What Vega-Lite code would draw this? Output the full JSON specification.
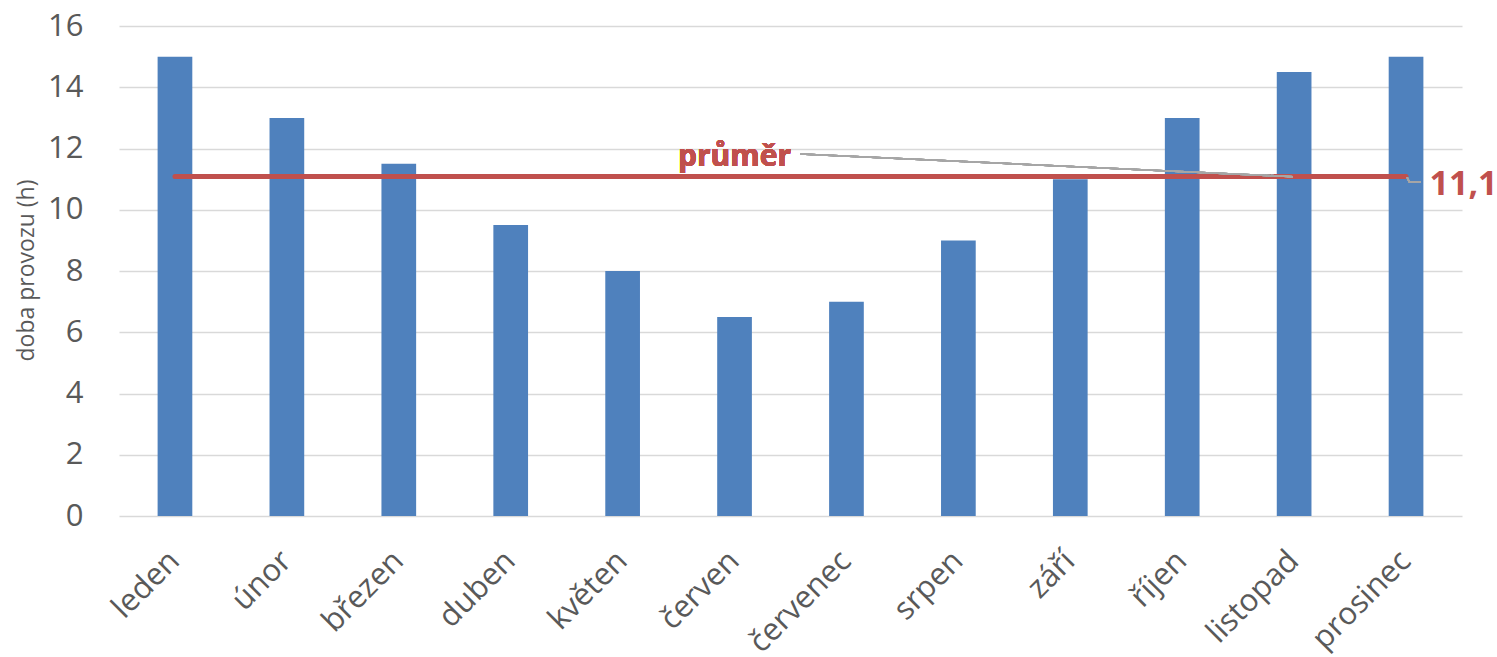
{
  "$schema": "https://vega.github.io/schema/vega-lite/v6.json",
  "autosize": "none",
  "width": 1343,
  "height": 490,
  "padding": {"left": 119, "top": 26, "right": 35, "bottom": 141},
  "background": "white",
  "config": {
    "view": {"stroke": null},
    "font": "Open Sans",
    "locale": {"number": {"decimal": ",", "thousands": "\u00a0", "grouping": [3], "currency": ["", " Kč"]}}
  },
  "data": {
    "values": [
      {"mesic": "leden", "doba": 15},
      {"mesic": "únor", "doba": 13},
      {"mesic": "březen", "doba": 11.5},
      {"mesic": "duben", "doba": 9.5},
      {"mesic": "květen", "doba": 8},
      {"mesic": "červen", "doba": 6.5},
      {"mesic": "červenec", "doba": 7},
      {"mesic": "srpen", "doba": 9},
      {"mesic": "září", "doba": 11},
      {"mesic": "říjen", "doba": 13},
      {"mesic": "listopad", "doba": 14.5},
      {"mesic": "prosinec", "doba": 15}
    ]
  },
  "resolve": {"scale": {"x": "independent"}, "axis": {"x": "independent"}},
  "layer": [
    {
      "mark": {"type": "bar", "color": "#4F81BD"},
      "encoding": {
        "x": {
          "field": "mesic", "type": "nominal", "sort": null,
          "scale": {"paddingInner": 0.69, "paddingOuter": 0.345},
          "axis": {
            "title": null, "domain": false, "ticks": false,
            "labelAngle": -45, "labelAlign": "right", "labelBaseline": "middle",
            "labelFontSize": 31, "labelColor": "#595959", "labelPadding": 40,
            "labelFont": "Open Sans"
          }
        },
        "y": {
          "field": "doba", "type": "quantitative",
          "scale": {"domain": [0, 16], "nice": false},
          "axis": {
            "values": [0, 2, 4, 6, 8, 10, 12, 14, 16],
            "title": "doba provozu (h)",
            "titleFontSize": 23, "titleFontWeight": "normal", "titleColor": "#595959",
            "titleFont": "Open Sans", "titleX": -93, "titleY": 244,
            "titleBaseline": "middle", "titleAlign": "center", "titleAngle": -90,
            "domain": false, "ticks": false,
            "labelFontSize": 31, "labelColor": "#595959", "labelPadding": 36,
            "labelFont": "Open Sans",
            "grid": true, "gridColor": "#D9D9D9", "gridWidth": 1.5
          }
        }
      }
    },
    {
      "transform": [{"joinaggregate": [{"op": "mean", "field": "doba", "as": "prumer"}]}],
      "mark": {"type": "line", "color": "#C0504D", "strokeWidth": 5, "strokeCap": "round"},
      "encoding": {
        "x": {"field": "mesic", "type": "nominal", "sort": null, "scale": {"paddingInner": 0.69, "paddingOuter": 0.345}, "axis": null},
        "y": {"field": "prumer", "type": "quantitative"}
      }
    },
    {
      "mark": {"type": "rule", "color": "#A6A6A6", "strokeWidth": 1.5},
      "encoding": {
        "x": {"datum": 6.085, "type": "quantitative", "scale": {"domain": [0, 12]}, "axis": null},
        "x2": {"datum": 10.49},
        "y": {"datum": 11.82},
        "y2": {"datum": 11.08}
      }
    },
    {
      "mark": {"type": "rule", "color": "#A6A6A6", "strokeWidth": 1.5},
      "encoding": {
        "x": {"datum": 11.51, "type": "quantitative", "scale": {"domain": [0, 12]}, "axis": null},
        "x2": {"datum": 11.53},
        "y": {"datum": 11.06},
        "y2": {"datum": 10.9}
      }
    },
    {
      "mark": {"type": "rule", "color": "#A6A6A6", "strokeWidth": 1.5},
      "encoding": {
        "x": {"datum": 11.53, "type": "quantitative", "scale": {"domain": [0, 12]}, "axis": null},
        "x2": {"datum": 11.63},
        "y": {"datum": 10.9},
        "y2": {"datum": 10.9}
      }
    },
    {
      "mark": {"type": "text", "text": "průměr", "color": "#C0504D", "font": "Open Sans", "fontWeight": "bold", "fontSize": 30, "align": "center", "baseline": "alphabetic"},
      "encoding": {
        "x": {"datum": 5.5, "type": "quantitative", "scale": {"domain": [0, 12]}, "axis": null},
        "y": {"datum": 11.43}
      }
    },
    {
      "transform": [{"aggregate": [{"op": "mean", "field": "doba", "as": "prumer"}]}],
      "mark": {"type": "text", "color": "#C0504D", "font": "Open Sans", "fontWeight": "bold", "fontSize": 34, "align": "left", "baseline": "alphabetic"},
      "encoding": {
        "x": {"datum": 11.71, "type": "quantitative", "scale": {"domain": [0, 12]}, "axis": null},
        "y": {"datum": 10.48},
        "text": {"field": "prumer", "type": "quantitative", "format": ".1f"}
      }
    }
  ]
}
